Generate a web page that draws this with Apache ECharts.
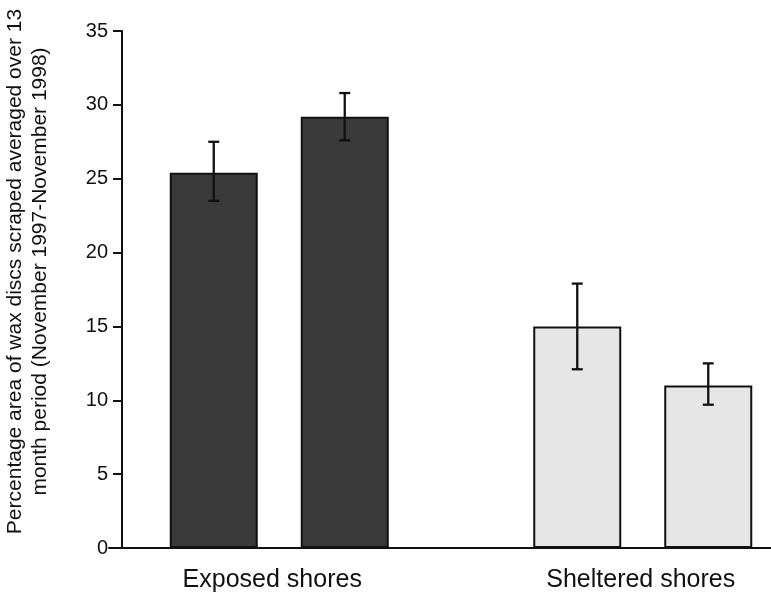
<!DOCTYPE html>
<html>
<head>
<meta charset="utf-8">
<script src="https://cdn.jsdelivr.net/npm/echarts@6/dist/echarts.min.js"></script>
<style>
  html, body { margin: 0; padding: 0; background: #fff; }
  #main { width: 771px; height: 594px; }
</style>
</head>
<body>
<div id="main"></div>
<script>
// chart values
var categories = ['Exposed shores', 'Sheltered shores'];
var firstBar = [25.4, 15.0];
var secondBar = [29.2, 11.0];
var firstErrLow = [23.5, 12.1];
var firstErrHigh = [27.5, 17.9];
var secondErrLow = [27.6, 9.7];
var secondErrHigh = [30.8, 12.5];
var yTicks = [0, 5, 10, 15, 20, 25, 30, 35];

var groupColors = ['#3a3a3a', '#e6e6e6'];
var labelShift = [14, 4];   // left padding nudge of the group labels
var BAR_W = 88;
var BAR_GAP = 43;   // px between the two bars of a group
var FONT = '"Liberation Sans", Arial, Helvetica, sans-serif';

var myChart = echarts.init(document.getElementById('main'));

function barData(vals) {
    return vals.map(function (v, i) {
        return { value: v, itemStyle: { color: groupColors[i] } };
    });
}

function errData(low, high) {
    return low.map(function (l, i) { return [i, l, high[i]]; });
}

function errRender(shift) {
    return function (params, api) {
        var lo = api.coord([api.value(0), api.value(1)]);
        var hi = api.coord([api.value(0), api.value(2)]);
        var x = lo[0] + shift;
        var cap = 5.5;
        var st = { stroke: '#111', lineWidth: 2.3 };
        return {
            type: 'group',
            children: [
                { type: 'line', shape: { x1: x, y1: lo[1], x2: x, y2: hi[1] }, style: st },
                { type: 'line', shape: { x1: x - cap, y1: lo[1], x2: x + cap, y2: lo[1] }, style: st },
                { type: 'line', shape: { x1: x - cap, y1: hi[1], x2: x + cap, y2: hi[1] }, style: st }
            ]
        };
    };
}

var half = (BAR_W + BAR_GAP) / 2;

var option = {
    backgroundColor: '#fff',
    animation: false,
    textStyle: { fontFamily: FONT },
    grid: [
        // bars
        { left: 97.5, right: -53.5, top: 31, bottom: 46, containLabel: false, outerBoundsMode: 'none' },
        // baseline only
        { left: 109, right: 0, top: 31, bottom: 46, containLabel: false, outerBoundsMode: 'none' }
    ],
    xAxis: [
        {
            type: 'category',
            gridIndex: 0,
            data: categories.map(function (c, i) {
                return { value: c, textStyle: { padding: [0, labelShift[i], 0, 0] } };
            }),
            axisLine: { show: false },
            axisTick: { show: false },
            axisLabel: { color: '#111', fontSize: 25, margin: 20, fontFamily: FONT }
        },
        {
            type: 'value',
            gridIndex: 1,
            min: 0,
            max: 1,
            axisLine: { show: true, lineStyle: { color: '#111', width: 2 } },
            axisTick: { show: false },
            axisLabel: { show: false },
            splitLine: { show: false }
        }
    ],
    yAxis: [
        {
            type: 'value',
            gridIndex: 0,
            min: 0,
            max: 35,
            interval: 5,
            offset: -24.5,
            name: 'Percentage area of wax discs scraped averaged over 13\nmonth period (November 1997-November 1998)',
            nameLocation: 'middle',
            nameRotate: 90,
            nameGap: 69,
            nameTextStyle: { color: '#111', fontSize: 21, lineHeight: 25, fontFamily: FONT, padding: [0, 0, 0, 36] },
            axisLine: { show: true, lineStyle: { color: '#111', width: 2 } },
            axisTick: { show: true, inside: false, length: 9, lineStyle: { color: '#111', width: 2 } },
            axisLabel: {
                color: '#111', fontSize: 20, margin: 14, fontFamily: FONT,
                formatter: function (v) { return yTicks.indexOf(v) >= 0 ? String(v) : ''; }
            },
            splitLine: { show: false }
        },
        {
            type: 'value',
            gridIndex: 1,
            show: false
        }
    ],
    series: [
        {
            name: 'first',
            type: 'bar',
            data: barData(firstBar),
            barWidth: BAR_W,
            barGap: (BAR_GAP / BAR_W * 100) + '%',
            itemStyle: { borderColor: '#111', borderWidth: 2 }
        },
        {
            name: 'second',
            type: 'bar',
            data: barData(secondBar),
            barWidth: BAR_W,
            itemStyle: { borderColor: '#111', borderWidth: 2 }
        },
        {
            type: 'custom',
            data: errData(firstErrLow, firstErrHigh),
            renderItem: errRender(-half),
            z: 10
        },
        {
            type: 'custom',
            data: errData(secondErrLow, secondErrHigh),
            renderItem: errRender(half),
            z: 10
        }
    ]
};

myChart.setOption(option);
</script>
</body>
</html>
